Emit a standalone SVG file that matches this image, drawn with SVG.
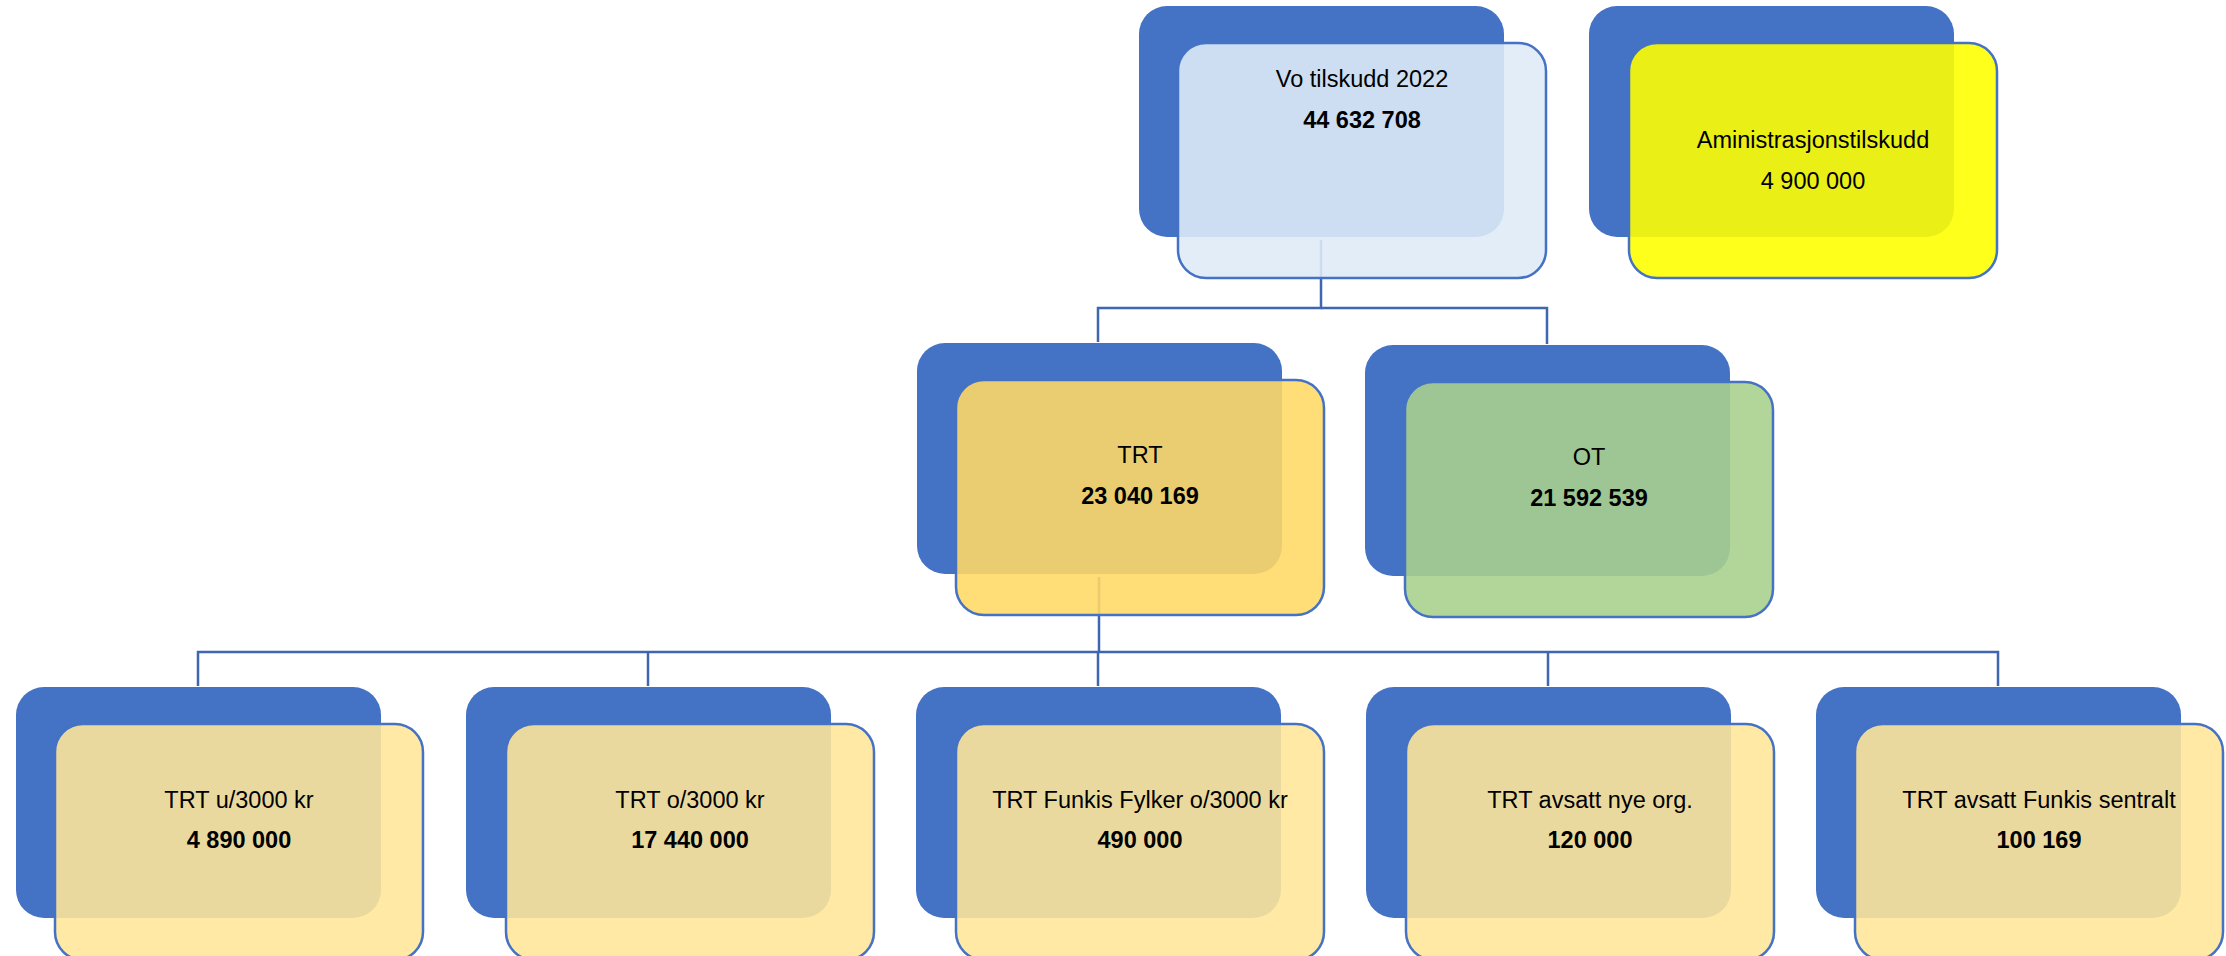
<svg xmlns="http://www.w3.org/2000/svg" width="2226" height="956" viewBox="0 0 2226 956">
<style>
.back{fill:#4472C4;}
.front{stroke:#4472C4;stroke-width:2.5;fill-opacity:0.89;}
.blue{fill:#DEEBF7;}
.yellow{fill:#FFFF00;}
.gold{fill:#FFD966;}
.green{fill:#A9D18E;}
.pale{fill:#FFE699;}
.conn{fill:none;stroke:#3F66B0;stroke-width:2.5;}
text{font-family:"Liberation Sans",Arial,sans-serif;font-size:23.5px;fill:#000;text-anchor:middle;}
.b{font-weight:bold;}
</style>
<rect width="2226" height="956" fill="#fff"/>
<g id="connectors">
<polyline class="conn" points="1321,240 1321,308 1098,308 1098,342"/>
<polyline class="conn" points="1321,308 1547,308 1547,344"/>
<polyline class="conn" points="1099,577 1099,652"/>
<polyline class="conn" points="198,686 198,652 1998,652 1998,686"/>
<line class="conn" x1="648" y1="652" x2="648" y2="686"/>
<line class="conn" x1="1098" y1="652" x2="1098" y2="686"/>
<line class="conn" x1="1548" y1="652" x2="1548" y2="686"/>
</g>
<g id="node-vo">
<rect class="back" x="1139" y="6" width="365" height="231" rx="28"/>
<rect class="front blue" x="1178" y="43" width="368" height="235" rx="28"/>
<text x="1362" y="87">Vo tilskudd 2022</text>
<text class="b" x="1362" y="128">44 632 708</text>
</g>
<g id="node-admin">
<rect class="back" x="1589" y="6" width="365" height="231" rx="28"/>
<rect class="front yellow" x="1629" y="43" width="368" height="235" rx="28"/>
<text x="1813" y="148">Aministrasjonstilskudd</text>
<text x="1813" y="189">4 900 000</text>
</g>
<g id="node-trt">
<rect class="back" x="917" y="343" width="365" height="231" rx="28"/>
<rect class="front gold" x="956" y="380" width="368" height="235" rx="28"/>
<text x="1140" y="463">TRT</text>
<text class="b" x="1140" y="504">23 040 169</text>
</g>
<g id="node-ot">
<rect class="back" x="1365" y="345" width="365" height="231" rx="28"/>
<rect class="front green" x="1405" y="382" width="368" height="235" rx="28"/>
<text x="1589" y="465">OT</text>
<text class="b" x="1589" y="506">21 592 539</text>
</g>
<g id="node-trt-u3000">
<rect class="back" x="16" y="687" width="365" height="231" rx="28"/>
<rect class="front pale" x="55" y="724" width="368" height="236" rx="28"/>
<text x="239" y="808">TRT u/3000 kr</text>
<text class="b" x="239" y="848">4 890 000</text>
</g>
<g id="node-trt-o3000">
<rect class="back" x="466" y="687" width="365" height="231" rx="28"/>
<rect class="front pale" x="506" y="724" width="368" height="236" rx="28"/>
<text x="690" y="808">TRT o/3000 kr</text>
<text class="b" x="690" y="848">17 440 000</text>
</g>
<g id="node-trt-funkis-fylker">
<rect class="back" x="916" y="687" width="365" height="231" rx="28"/>
<rect class="front pale" x="956" y="724" width="368" height="236" rx="28"/>
<text x="1140" y="808">TRT Funkis Fylker o/3000 kr</text>
<text class="b" x="1140" y="848">490 000</text>
</g>
<g id="node-trt-nye-org">
<rect class="back" x="1366" y="687" width="365" height="231" rx="28"/>
<rect class="front pale" x="1406" y="724" width="368" height="236" rx="28"/>
<text x="1590" y="808">TRT avsatt nye org.</text>
<text class="b" x="1590" y="848">120 000</text>
</g>
<g id="node-trt-funkis-sentralt">
<rect class="back" x="1816" y="687" width="365" height="231" rx="28"/>
<rect class="front pale" x="1855" y="724" width="368" height="236" rx="28"/>
<text x="2039" y="808">TRT avsatt Funkis sentralt</text>
<text class="b" x="2039" y="848">100 169</text>
</g>
</svg>
